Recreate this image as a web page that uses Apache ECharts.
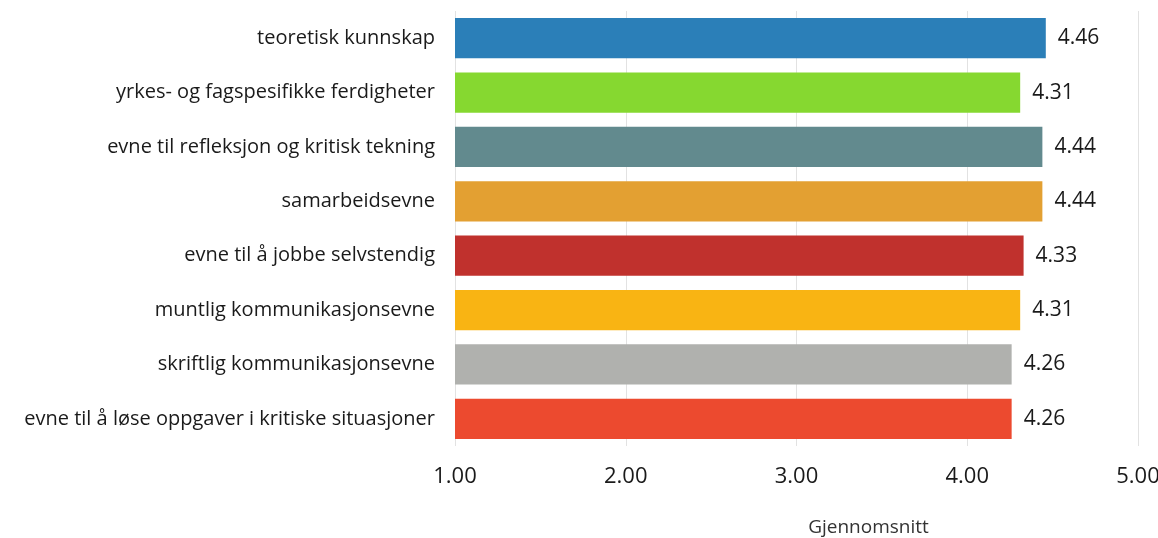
<!DOCTYPE html>
<html>
<head>
<meta charset="utf-8">
<script src="https://cdn.jsdelivr.net/npm/echarts@6/dist/echarts.min.js"></script>
<style>html,body{margin:0;padding:0;background:#fff}#c{width:1158px;height:538px}</style>
</head>
<body>
<div id="c"></div>
<script>
const categories = [
  "teoretisk kunnskap",
  "yrkes- og fagspesifikke ferdigheter",
  "evne til refleksjon og kritisk tekning",
  "samarbeidsevne",
  "evne til å jobbe selvstendig",
  "muntlig kommunikasjonsevne",
  "skriftlig kommunikasjonsevne",
  "evne til å løse oppgaver i kritiske situasjoner"
];
const values = [4.46, 4.31, 4.44, 4.44, 4.33, 4.31, 4.26, 4.26];
const barColors = ["#2b7fb8", "#86d830", "#628a8e", "#e3a032", "#c0312d", "#f9b413", "#b0b1ae", "#ec4a2f"];
const xTicks = [1, 2, 3, 4, 5];
const axisName = "Gjennomsnitt";

const chart = echarts.init(document.getElementById('c'));
const font = "'Open Sans', 'Noto Sans', sans-serif";
chart.setOption({
  animation: false,
  backgroundColor: '#ffffff',
  grid: { left: 455, right: 20, top: 11, bottom: 92, containLabel: false, outerBoundsMode: 'none' },
  xAxis: {
    type: 'value',
    min: xTicks[0],
    max: xTicks[xTicks.length - 1],
    interval: 1,
    axisLine: { show: false },
    axisTick: { show: false },
    splitLine: { show: true, lineStyle: { color: '#e2e2e2', width: 1 } },
    axisLabel: {
      margin: 20,
      color: '#1a1a1a',
      fontSize: 22,
      fontFamily: font,
      formatter: v => v.toFixed(2)
    },
    name: axisName,
    nameLocation: 'middle',
    nameGap: 72,
    nameTextStyle: { color: '#333', fontSize: 19, fontFamily: font, padding: [0, 0, 0, 144] }
  },
  yAxis: {
    type: 'category',
    inverse: true,
    data: categories,
    axisLine: { show: false },
    axisTick: { show: false },
    axisLabel: { margin: 20, color: '#1a1a1a', fontSize: 20, fontFamily: font }
  },
  series: [{
    type: 'bar',
    data: values.map((v, i) => ({ value: v, itemStyle: { color: barColors[i] } })),
    barCategoryGap: '26%',
    label: {
      show: true,
      position: 'right',
      distance: 12,
      color: '#1a1a1a',
      fontSize: 21,
      fontFamily: font,
      formatter: p => p.value.toFixed(2)
    }
  }]
});
</script>
</body>
</html>
